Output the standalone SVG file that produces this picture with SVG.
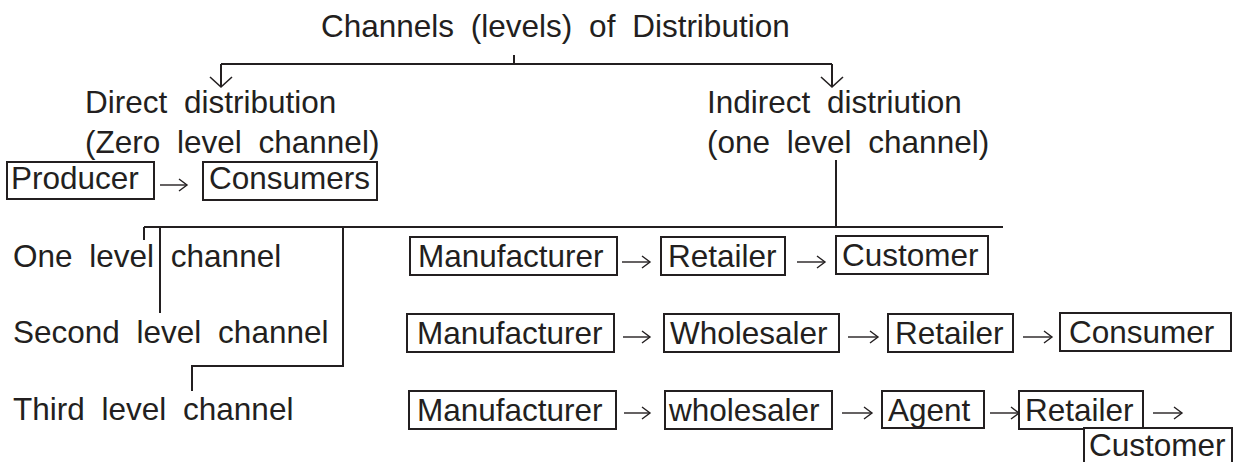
<svg xmlns="http://www.w3.org/2000/svg" width="1234" height="462" viewBox="0 0 1234 462">
<style>
text{font-family:"Liberation Sans",Arial,sans-serif;font-size:31.5px;fill:#231f20}
.w{word-spacing:8px}
.box{fill:#fff;stroke:#231f20;stroke-width:2}
.ln{fill:none;stroke:#231f20;stroke-width:2}
.ar{fill:none;stroke:#231f20;stroke-width:1.4}
</style>
<defs>
<marker id="chev" markerUnits="userSpaceOnUse" markerWidth="12" markerHeight="14" refX="9" refY="7" orient="auto">
<path d="M1,1 L9,7 L1,13" fill="none" stroke="#231f20" stroke-width="1.4"/>
</marker>
<marker id="vee" markerUnits="userSpaceOnUse" markerWidth="14" markerHeight="26" refX="11" refY="13" orient="auto">
<path d="M1,2 L11,13 L1,24" fill="none" stroke="#231f20" stroke-width="1.6"/>
</marker>
</defs>
<rect width="1234" height="462" fill="#fff"/>

<g id="title"><text x="321" y="37" class="w">Channels (levels) of Distribution</text></g>
<g id="direct"><text x="85" y="113" class="w">Direct distribution</text><text x="85" y="153" class="w">(Zero level channel)</text></g>
<g id="indirect"><text x="707" y="113" class="w">Indirect distriution</text><text x="707" y="153" class="w">(one level channel)</text></g>
<g id="producer"><rect class="box" x="7" y="162" width="147" height="37"/><text x="11" y="189">Producer</text></g>
<g id="consumers"><rect class="box" x="203" y="162" width="174" height="38"/><text x="209" y="189">Consumers</text></g>

<g id="label-one"><text x="13" y="267" class="w">One level channel</text></g>
<g id="label-second"><text x="13" y="343" class="w">Second level channel</text></g>
<g id="label-third"><text x="13" y="420" class="w">Third level channel</text></g>

<g id="r1-manufacturer"><rect class="box" x="410" y="237" width="207" height="38"/><text x="418" y="267">Manufacturer</text></g>
<g id="r1-retailer"><rect class="box" x="661" y="237" width="124" height="38"/><text x="668" y="267">Retailer</text></g>
<g id="r1-customer"><rect class="box" x="836" y="236" width="152" height="38"/><text x="842" y="266">Customer</text></g>

<g id="r2-manufacturer"><rect class="box" x="407" y="314" width="207" height="38"/><text x="417" y="344">Manufacturer</text></g>
<g id="r2-wholesaler"><rect class="box" x="664" y="314" width="175" height="38"/><text x="670" y="344">Wholesaler</text></g>
<g id="r2-retailer"><rect class="box" x="888" y="314" width="125" height="38"/><text x="895" y="344">Retailer</text></g>
<g id="r2-consumer"><rect class="box" x="1060" y="313" width="171" height="38"/><text x="1069" y="343">Consumer</text></g>

<g id="r3-manufacturer"><rect class="box" x="409" y="391" width="207" height="38"/><text x="417" y="421">Manufacturer</text></g>
<g id="r3-wholesaler"><rect class="box" x="665" y="391" width="167" height="38"/><text x="669" y="421">wholesaler</text></g>
<g id="r3-agent"><rect class="box" x="882" y="391" width="102" height="37"/><text x="888" y="421">Agent</text></g>
<g id="r3-retailer"><rect class="box" x="1019" y="391" width="124" height="38"/><text x="1025" y="421">Retailer</text></g>
<g id="r3-customer"><rect class="box" x="1084" y="428" width="148" height="40"/><text x="1089" y="456">Customer</text></g>

<g id="connectors">
<path class="ln" d="M514,55 V64"/>
<path class="ln" d="M221,64 H832"/>
<path class="ln" d="M221,64 V87" marker-end="url(#vee)"/>
<path class="ln" d="M832,64 V87" marker-end="url(#vee)"/>
<path class="ln" d="M836,160 V227"/>
<path class="ln" d="M144,227 H1003"/>
<path class="ln" d="M144,227 V240"/>
<path class="ln" d="M160,227 V313"/>
<path class="ln" d="M343,227 V366 H192 V391"/>
<path class="ar" d="M160,185 H187" marker-end="url(#chev)"/>
<path class="ar" d="M622,262 H650" marker-end="url(#chev)"/>
<path class="ar" d="M797,262 H825" marker-end="url(#chev)"/>
<path class="ar" d="M623,337 H650" marker-end="url(#chev)"/>
<path class="ar" d="M848,337 H878" marker-end="url(#chev)"/>
<path class="ar" d="M1023,337 H1052" marker-end="url(#chev)"/>
<path class="ar" d="M624,413 H650" marker-end="url(#chev)"/>
<path class="ar" d="M842,413 H872" marker-end="url(#chev)"/>
<path class="ar" d="M990,413 H1019" marker-end="url(#chev)"/>
<path class="ar" d="M1153,413 H1182" marker-end="url(#chev)"/>
</g>
</svg>
